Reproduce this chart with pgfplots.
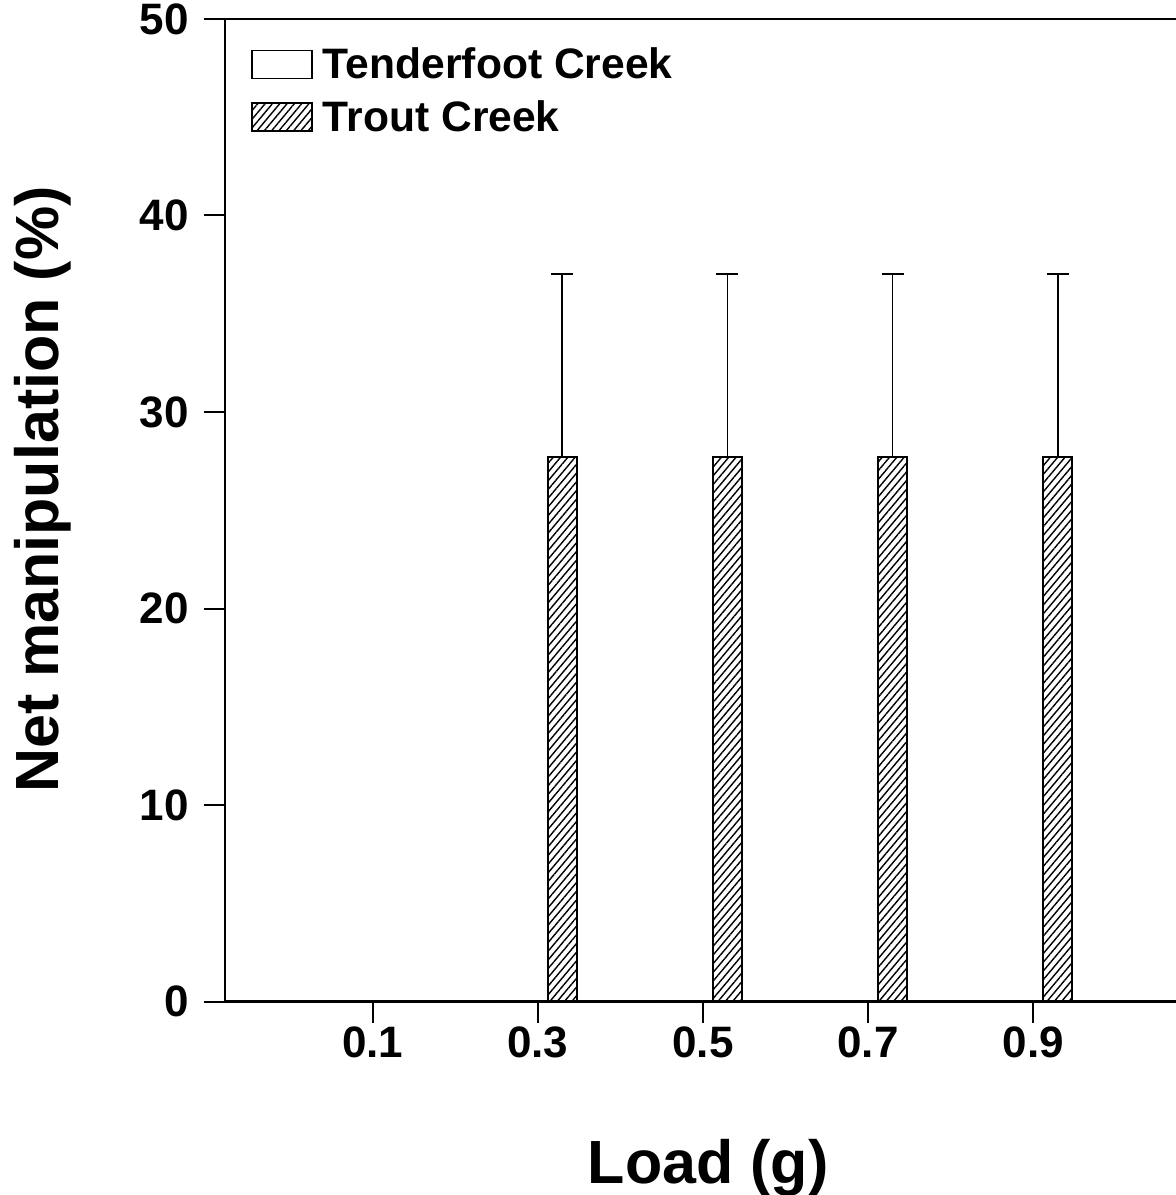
\documentclass[border=0pt]{standalone}
\usepackage{fontspec}
\setmainfont{Liberation Sans}
\usepackage{pgfplots}
\pgfplotsset{compat=1.18}
\usetikzlibrary{patterns.meta}

\tikzset{hatch/.style={pattern={Lines[angle=50,distance=2.8pt,line width=0.7pt]}}}

\begin{document}
\begin{tikzpicture}
\begin{axis}[
  scale only axis,
  width=475.5pt, height=491.25pt,
  xmin=-0.079, xmax=1.073,
  ymin=0, ymax=50,
  axis x line*=box, axis y line*=left,
  axis line style={line width=1.2pt},
  xtick pos=bottom, ytick pos=left,
  tick align=outside,
  major tick length=10.5pt,
  tick style={line width=1pt, black},
  xtick={0.1,0.3,0.5,0.7,0.9},
  xticklabels={0.1,0.3,0.5,0.7,0.9},
  ytick={0,10,20,30,40,50},
  /pgf/number format/assume math mode=true,
  ticklabel style={font=\fontsize{22}{26}\selectfont\bfseries},
  yticklabel style={xshift=-4pt},
  xticklabel style={yshift=1.3pt},
  xlabel={Load (g)},
  ylabel={Net manipulation (\%)},
  label style={font=\fontsize{30.5}{36}\selectfont\bfseries},
  xlabel style={at={(axis description cs:0.508,0)}, anchor=base, yshift=-90.75pt},
  ylabel style={at={(axis description cs:0,0.521)}, anchor=base, yshift=83pt},
  ybar, bar width=14.5pt,
  legend style={draw=none, fill=none, at={(axis description cs:0,1)}, anchor=north west,
    xshift=10pt, yshift=-10pt, font=\fontsize{21.3}{25}\selectfont\bfseries,
    row sep=5.5pt},
  legend cell align=left,
]
\addplot[draw=black, fill=white, line width=0.8pt, bar shift=-12.25pt,
  legend image code/.code={\draw[black,fill=white,line width=0.8pt] (0pt,-7pt) rectangle (30pt,7pt);
    \path (33pt,0pt);}]
  coordinates {(0.1,0) (0.3,0) (0.5,0) (0.7,0) (0.9,0)};
\addplot[draw=black, hatch, line width=0.8pt, bar shift=12.25pt,
  error bars/.cd, y dir=plus, y explicit,
  error bar style={line width=0.9pt, black},
  error mark options={rotate=90, mark size=5.5pt, line width=1pt, black},
  /pgfplots/legend image code/.code={\path[hatch] (0pt,-7pt) rectangle (30pt,7pt);
    \path (33pt,0pt);}]
  coordinates {(0.1,0) +- (0,0) (0.3,27.7) +- (0,9.3) (0.5,27.7) +- (0,9.3) (0.7,27.7) +- (0,9.3) (0.9,27.7) +- (0,9.3)};
\legend{Tenderfoot Creek, Trout Creek}
\end{axis}
\pgfresetboundingbox
\useasboundingbox (-112.5pt,-96.75pt) rectangle (475.5pt,500.75pt);
\end{tikzpicture}
\end{document}
